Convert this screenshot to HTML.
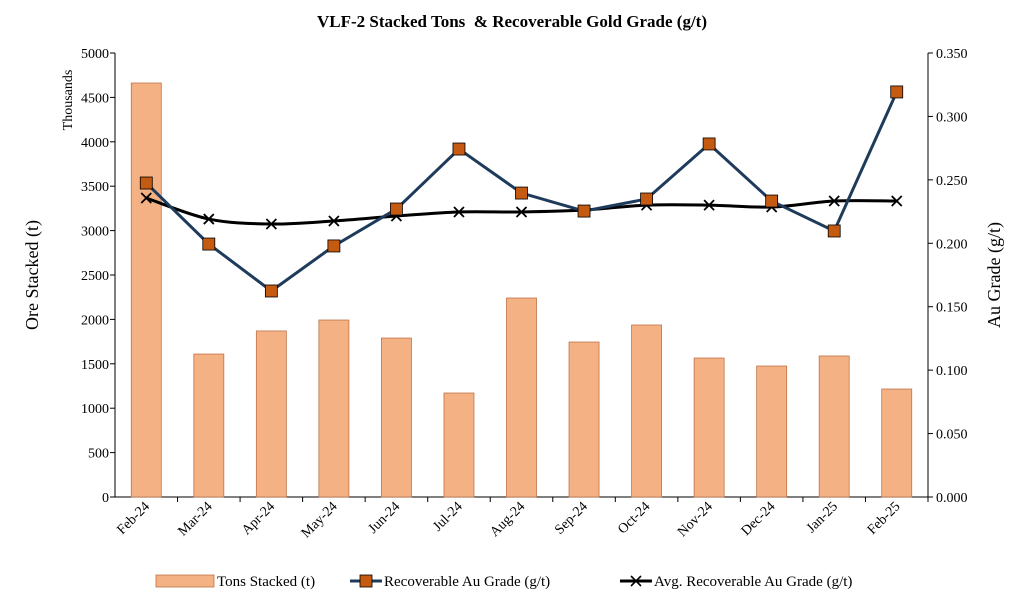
<!DOCTYPE html>
<html><head><meta charset="utf-8"><style>
body{margin:0;background:#fff;}
svg{display:block;font-family:"Liberation Serif",serif;}
</style></head><body>
<svg id="chart" width="1024" height="605">
<text x="512" y="27" text-anchor="middle" font-size="17" font-weight="bold">VLF-2 Stacked Tons &#160;&amp; Recoverable Gold Grade (g/t)</text>
<text x="72" y="100" transform="rotate(-90 72 100)" text-anchor="middle" font-size="14">Thousands</text>
<text x="38" y="275" transform="rotate(-90 38 275)" text-anchor="middle" font-size="18">Ore Stacked (t)</text>
<text x="1000" y="275" transform="rotate(-90 1000 275)" text-anchor="middle" font-size="18">Au Grade (g/t)</text>
<g id="plot"></g>
<g>
<g><rect x="156" y="575" width="58" height="12" fill="#f4b183" stroke="#c0734a" stroke-width="0.8"/><text x="217" y="586" font-size="15">Tons Stacked (t)</text></g>
<g><line x1="350" y1="581" x2="382" y2="581" stroke="#1f3b5c" stroke-width="3"/><rect x="360" y="575" width="12" height="12" fill="#c55a11" stroke="#000" stroke-width="0.8"/><text x="384" y="586" font-size="15">Recoverable Au Grade (g/t)</text></g>
<g><line x1="620" y1="581" x2="652" y2="581" stroke="#000" stroke-width="3"/><path d="M631 576 L641 586 M641 576 L631 586" stroke="#000" stroke-width="1.6"/><text x="654" y="586" font-size="15">Avg. Recoverable Au Grade (g/t)</text></g>
</g>
</svg>
<script>
const categories=["Feb-24","Mar-24","Apr-24","May-24","Jun-24","Jul-24","Aug-24","Sep-24","Oct-24","Nov-24","Dec-24","Jan-25","Feb-25"];
const tons=[4662,1610,1870,1993,1790,1171,2241,1745,1937,1565,1475,1588,1216];
const grade=[0.2475,0.1994,0.1624,0.1979,0.227,0.2743,0.2396,0.2254,0.2349,0.2783,0.2333,0.2097,0.3193];
const avgGrade=[0.2357,0.2191,0.2152,0.2176,0.2215,0.2247,0.2247,0.2262,0.2301,0.2301,0.2286,0.2333,0.2333];
const leftTicks=[0,500,1000,1500,2000,2500,3000,3500,4000,4500,5000];
const rightTicks=["0.000","0.050","0.100","0.150","0.200","0.250","0.300","0.350"];
const X0=115,X1=928,Y0=497,Y1=53;
const band=(X1-X0)/categories.length;
const xc=i=>X0+band*(i+0.5);
const yL=v=>Y0-(v/5000)*(Y0-Y1);
const yR=v=>Y0-(v/0.35)*(Y0-Y1);
const NS="http://www.w3.org/2000/svg";
const g=document.getElementById('plot');
function mk(t,a,p){const e=document.createElementNS(NS,t);for(const k in a)e.setAttribute(k,a[k]);(p||g).appendChild(e);return e;}
let e;
e=mk('line',{x1:X0,y1:Y1,x2:X0,y2:Y0,stroke:'#000'});


e=mk('line',{x1:X1,y1:Y1,x2:X1,y2:Y0,stroke:'#000'});


e=mk('line',{x1:X0,y1:Y0,x2:X1,y2:Y0,stroke:'#000'});


leftTicks.forEach(v=>{const y=yL(v);mk('line',{x1:X0-5,y1:y,x2:X0,y2:y,stroke:'#000'});
e=mk('text',{x:X0-6,y:y+5,'text-anchor':'end','font-size':14});e.textContent=v;

});
rightTicks.forEach(v=>{const y=yR(+v);mk('line',{x1:X1,y1:y,x2:X1+5,y2:y,stroke:'#000'});
e=mk('text',{x:X1+8,y:y+5,'font-size':14});e.textContent=v;

});
categories.forEach((c,i)=>{const x=xc(i);mk('line',{x1:X0+band*(i+1),y1:Y0,x2:X0+band*(i+1),y2:Y0+5,stroke:'#000'});
e=mk('text',{x:x+4,y:Y0+10,'text-anchor':'end','font-size':14,transform:`rotate(-45 ${x+4} ${Y0+10})`});e.textContent=c;

});
tons.forEach((v,i)=>{const w=band*0.48;e=mk('rect',{x:xc(i)-w/2,y:yL(v),width:w,height:Y0-yL(v),fill:'#f4b183',stroke:'#c0734a','stroke-width':0.8});

});
const ap=avgGrade.map((v,i)=>[xc(i),yR(v)]);
let d=`M${ap[0][0]},${ap[0][1]}`;
for(let i=0;i<ap.length-1;i++){const p0=ap[Math.max(0,i-1)],p1=ap[i],p2=ap[i+1],p3=ap[Math.min(ap.length-1,i+2)];
d+=` C${p1[0]+(p2[0]-p0[0])/6},${p1[1]+(p2[1]-p0[1])/6} ${p2[0]-(p3[0]-p1[0])/6},${p2[1]-(p3[1]-p1[1])/6} ${p2[0]},${p2[1]}`;}
e=mk('path',{d:d,fill:'none',stroke:'#000','stroke-width':3});


e=mk('polyline',{points:grade.map((v,i)=>xc(i)+','+yR(v)).join(' '),fill:'none',stroke:'#1f3b5c','stroke-width':3});


ap.forEach((p,i)=>{e=mk('path',{d:`M${p[0]-5},${p[1]-5}L${p[0]+5},${p[1]+5}M${p[0]+5},${p[1]-5}L${p[0]-5},${p[1]+5}`,stroke:'#000','stroke-width':1.8});

});
grade.forEach((v,i)=>{e=mk('rect',{x:xc(i)-6,y:yR(v)-6,width:12,height:12,fill:'#c55a11',stroke:'#000','stroke-width':0.8});

});
</script>
</body></html>
